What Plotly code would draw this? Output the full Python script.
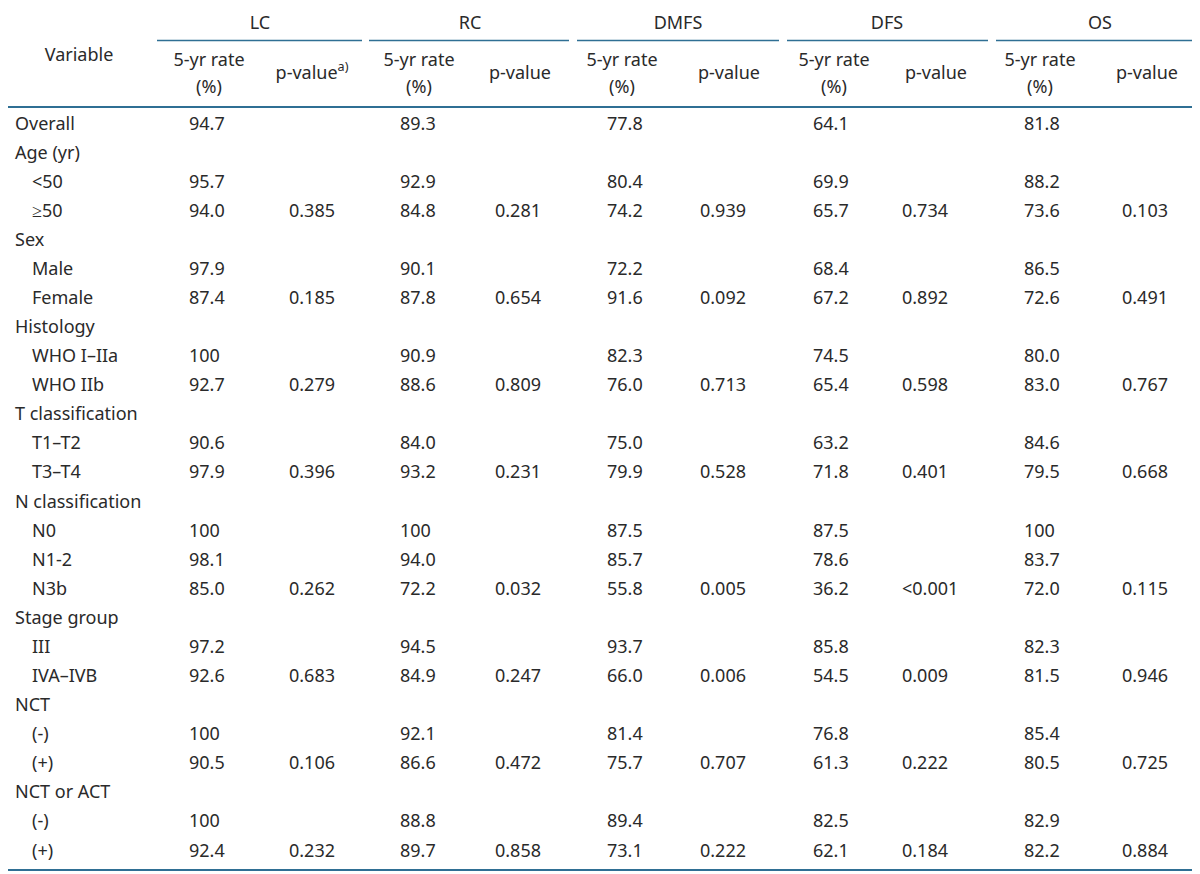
import plotly.graph_objects as go

# ---------------- data ----------------
groups = ["LC", "RC", "DMFS", "DFS", "OS"]
labels = ["Overall", "Age (yr)", "<50", "≥50", "Sex", "Male", "Female", "Histology",
          "WHO I–IIa", "WHO IIb", "T classification", "T1–T2", "T3–T4",
          "N classification", "N0", "N1-2", "N3b", "Stage group", "III", "IVA–IVB",
          "NCT", "(-)", "(+)", "NCT or ACT", "(-)", "(+)"]
indent = [0, 0, 1, 1, 0, 1, 1, 0, 1, 1, 0, 1, 1, 0, 1, 1, 1, 0, 1, 1, 0, 1, 1, 0, 1, 1]

lc_rate = ["94.7", "", "95.7", "94.0", "", "97.9", "87.4", "", "100", "92.7", "", "90.6", "97.9",
           "", "100", "98.1", "85.0", "", "97.2", "92.6", "", "100", "90.5", "", "100", "92.4"]
lc_p = ["", "", "", "0.385", "", "", "0.185", "", "", "0.279", "", "", "0.396",
        "", "", "", "0.262", "", "", "0.683", "", "", "0.106", "", "", "0.232"]
rc_rate = ["89.3", "", "92.9", "84.8", "", "90.1", "87.8", "", "90.9", "88.6", "", "84.0", "93.2",
           "", "100", "94.0", "72.2", "", "94.5", "84.9", "", "92.1", "86.6", "", "88.8", "89.7"]
rc_p = ["", "", "", "0.281", "", "", "0.654", "", "", "0.809", "", "", "0.231",
        "", "", "", "0.032", "", "", "0.247", "", "", "0.472", "", "", "0.858"]
dmfs_rate = ["77.8", "", "80.4", "74.2", "", "72.2", "91.6", "", "82.3", "76.0", "", "75.0", "79.9",
             "", "87.5", "85.7", "55.8", "", "93.7", "66.0", "", "81.4", "75.7", "", "89.4", "73.1"]
dmfs_p = ["", "", "", "0.939", "", "", "0.092", "", "", "0.713", "", "", "0.528",
          "", "", "", "0.005", "", "", "0.006", "", "", "0.707", "", "", "0.222"]
dfs_rate = ["64.1", "", "69.9", "65.7", "", "68.4", "67.2", "", "74.5", "65.4", "", "63.2", "71.8",
            "", "87.5", "78.6", "36.2", "", "85.8", "54.5", "", "76.8", "61.3", "", "82.5", "62.1"]
dfs_p = ["", "", "", "0.734", "", "", "0.892", "", "", "0.598", "", "", "0.401",
         "", "", "", "<0.001", "", "", "0.009", "", "", "0.222", "", "", "0.184"]
os_rate = ["81.8", "", "88.2", "73.6", "", "86.5", "72.6", "", "80.0", "83.0", "", "84.6", "79.5",
           "", "100", "83.7", "72.0", "", "82.3", "81.5", "", "85.4", "80.5", "", "82.9", "82.2"]
os_p = ["", "", "", "0.103", "", "", "0.491", "", "", "0.767", "", "", "0.668",
        "", "", "", "0.115", "", "", "0.946", "", "", "0.725", "", "", "0.884"]

rate_cols = [lc_rate, rc_rate, dmfs_rate, dfs_rate, os_rate]
p_cols = [lc_p, rc_p, dmfs_p, dfs_p, os_p]
p_headers = ["p-value<sup>a)</sup>", "p-value", "p-value", "p-value", "p-value"]

# ---------------- layout geometry ----------------
W, H = 1200, 874
OFF = 8  # default page body margin
FONT = "Noto Sans"
TXT = "#2a2a2a"
LINE = "#2f6f94"
FS = 18

row0, dy = 125, 29.08
row_y = [row0 + i * dy for i in range(len(labels))]

group_center = [260, 470, 678, 887, 1100]
group_span = [(157, 362), (369, 569), (577, 779), (787, 988), (996, 1200)]
rate_hdr_x = [209, 419, 622, 834, 1040]
p_hdr_x = [312, 520, 729, 936, 1147]
rate_x = [189, 400, 607, 813, 1024]
p_x = [289, 495, 700, 902, 1122]

fig = go.Figure()

def text_trace(xs, ys, texts, pos):
    fig.add_trace(go.Scatter(
        x=xs, y=ys, text=texts, mode="text", textposition=pos,
        textfont=dict(family=FONT, size=FS, color=TXT),
        hoverinfo="skip", showlegend=False, cliponaxis=False))

# row labels
text_trace([15 if ind == 0 else 32 for ind in indent], row_y, labels, "middle right")

# values
for k in range(5):
    rr = [(row_y[i], v) for i, v in enumerate(rate_cols[k]) if v]
    text_trace([rate_x[k]] * len(rr), [r[0] for r in rr], [r[1] for r in rr], "middle right")
    pp = [(row_y[i], v) for i, v in enumerate(p_cols[k]) if v]
    text_trace([p_x[k]] * len(pp), [r[0] for r in pp], [r[1] for r in pp], "middle right")

# headers
text_trace([79], [56], ["Variable"], "middle center")
text_trace(group_center, [24] * 5, groups, "middle center")
text_trace(rate_hdr_x, [61] * 5, ["5-yr rate"] * 5, "middle center")
text_trace(rate_hdr_x, [88] * 5, ["(%)"] * 5, "middle center")
text_trace(p_hdr_x, [74] * 5, p_headers, "middle center")

shapes = [
    dict(type="line", x0=0, x1=W, y0=4, y1=4, line=dict(color=LINE, width=2)),
    dict(type="line", x0=0, x1=W, y0=107, y1=107, line=dict(color=LINE, width=2)),
    dict(type="line", x0=0, x1=W, y0=870, y1=870, line=dict(color=LINE, width=2)),
]
for a, b in group_span:
    shapes.append(dict(type="line", x0=a, x1=b, y0=40.5, y1=40.5,
                       line=dict(color=LINE, width=1.5)))
for s in shapes:
    s.update(xref="x", yref="y", layer="above")

fig.update_layout(
    width=W, height=H,
    margin=dict(l=0, r=0, t=0, b=0),
    paper_bgcolor="white", plot_bgcolor="white",
    xaxis=dict(range=[OFF, W + OFF], visible=False, fixedrange=True),
    yaxis=dict(range=[H + OFF, OFF], visible=False, fixedrange=True),
    shapes=shapes,
    showlegend=False,
)

fig.write_html("out.html", config={"displayModeBar": False})
